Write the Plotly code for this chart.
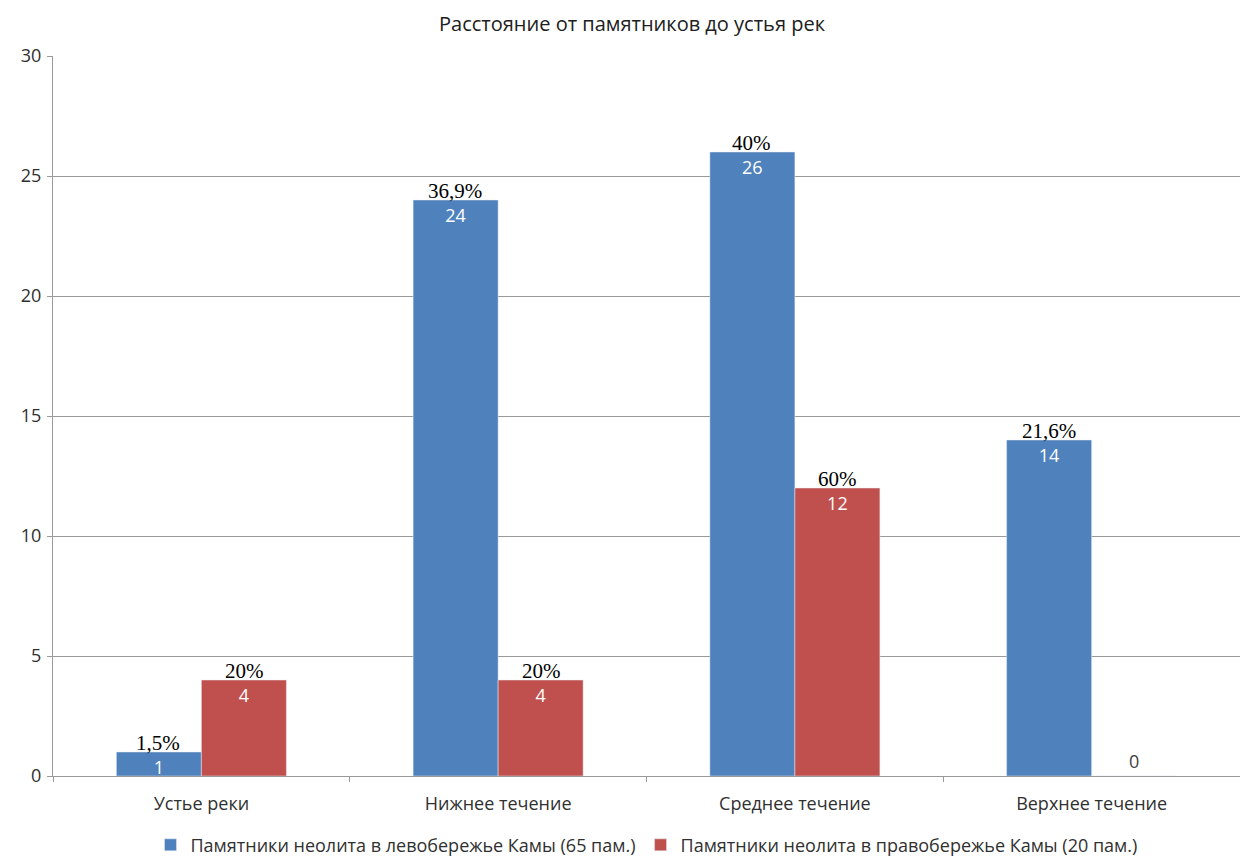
import plotly.graph_objects as go

categories = ["Устье реки", "Нижнее течение", "Среднее течение", "Верхнее течение"]
left_bank = [1, 24, 26, 14]
right_bank = [4, 4, 12, 0]
left_pct = ["1,5%", "36,9%", "40%", "21,6%"]
right_pct = ["20%", "20%", "60%", ""]
left_name = "Памятники неолита в левобережье Камы (65 пам.)"
right_name = "Памятники неолита в правобережье Камы (20 пам.)"
title_text = "Расстояние от памятников до устья рек"

BLUE = "#4F81BD"
RED = "#C0504D"
sans = "Open Sans, Liberation Sans, sans-serif"
serif = "Liberation Serif, Times New Roman, serif"

fig = go.Figure()
fig.add_trace(go.Bar(
    x=categories, y=left_bank, name=left_name, marker_color=BLUE,
    text=[str(v) for v in left_bank], textposition="inside", insidetextanchor="end",
    textfont=dict(color="white", size=18, family=sans), textangle=0,
    constraintext="none", cliponaxis=False,
))
fig.add_trace(go.Bar(
    x=categories, y=right_bank, name=right_name, marker_color=RED,
    text=[str(v) for v in right_bank],
    textposition=["inside" if v > 0 else "outside" for v in right_bank],
    insidetextanchor="end",
    textfont=dict(color=["white" if v > 0 else "#404040" for v in right_bank], size=18, family=sans),
    textangle=0, constraintext="none", cliponaxis=False,
))

for i, cat in enumerate(categories):
    if left_pct[i]:
        fig.add_annotation(x=cat, y=left_bank[i], text=left_pct[i], showarrow=False,
                           xshift=-43, yanchor="bottom", yshift=-5,
                           font=dict(family=serif, size=21, color="black"))
    if right_pct[i]:
        fig.add_annotation(x=cat, y=right_bank[i], text=right_pct[i], showarrow=False,
                           xshift=43, yanchor="bottom", yshift=-5,
                           font=dict(family=serif, size=21, color="black"))

fig.update_layout(
    width=1248, height=858,
    paper_bgcolor="white", plot_bgcolor="white",
    barmode="group", bargap=0.427, bargroupgap=0,
    title=dict(text=title_text, x=0.5, xanchor="center", y=0.99, yanchor="top",
               font=dict(family=sans, size=20, color="#202020")),
    margin=dict(l=45, r=16, t=48, b=90, autoexpand=False),
    font=dict(family=sans, size=18, color="#303030"),
    xaxis=dict(showgrid=False, showline=True, linecolor="#9a9a9a", linewidth=1,
               ticks="outside", tickson="boundaries", ticklen=5, tickcolor="#9a9a9a",
               ticklabelstandoff=11,
               tickfont=dict(size=18, color="#303030")),
    yaxis=dict(range=[0, 30], dtick=5, showgrid=True, gridcolor="#9a9a9a", gridwidth=1,
               showline=True, linecolor="#9a9a9a", ticks="outside", ticklen=5,
               tickcolor="#9a9a9a", zeroline=False, ticklabelstandoff=2,
               tickfont=dict(size=18, color="#303030")),
    legend=dict(orientation="h", x=0.5, xanchor="center", y=-0.096, yanchor="middle",
                font=dict(size=18, color="#303030"), itemwidth=30,
                traceorder="normal"),
    showlegend=True,
)

fig.write_html("out.html")
